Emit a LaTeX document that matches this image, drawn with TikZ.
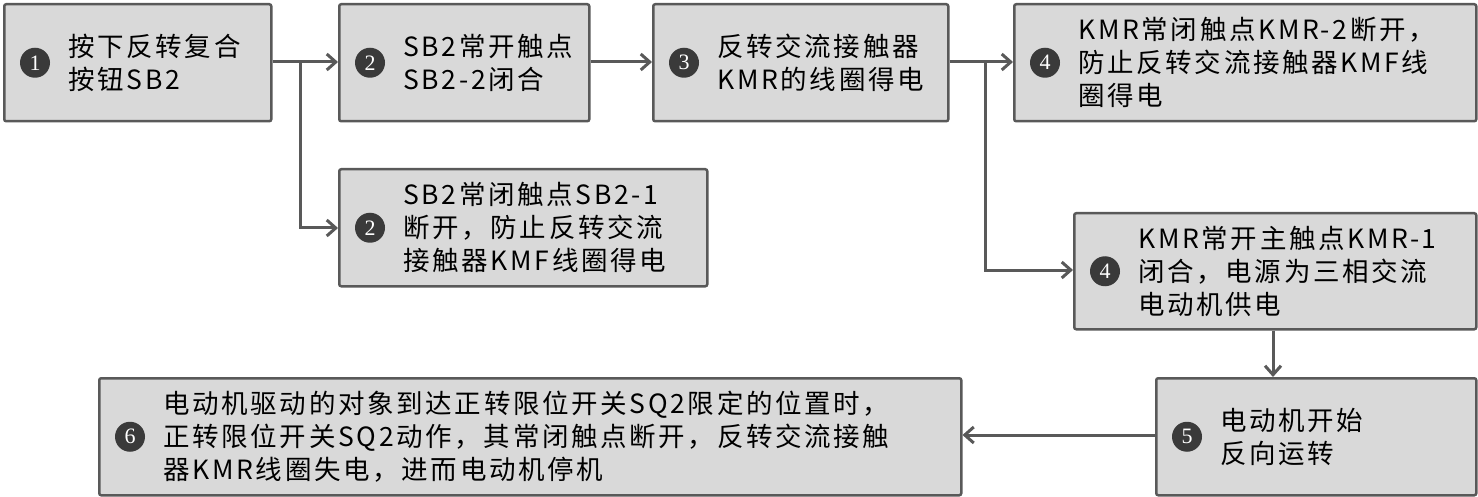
\documentclass[tikz,border=0pt]{standalone}
\usepackage{fontspec}
\setmainfont{Liberation Serif}
\newfontfamily\cjk[LetterSpace=10]{Noto Sans CJK SC}
\usetikzlibrary{arrows.meta}
\definecolor{boxfill}{HTML}{D9D9D9}
\definecolor{boxline}{HTML}{595959}
\definecolor{numfill}{HTML}{3A3A3A}
\tikzset{
  stepbox/.style={rectangle,rounded corners=2pt,line width=2.5pt,draw=boxline,fill=boxfill,
    anchor=north west,inner sep=0pt},
  steptext/.style={font=\cjk\fontsize{26.5}{33}\selectfont,align=left,anchor=west,inner sep=0pt},
  numdot/.style={circle,fill=numfill,text=white,inner sep=0pt,minimum size=30pt,
    font=\fontsize{22}{22}\selectfont},
  flow/.style={line width=3pt,draw=boxline,-{Straight Barb[length=9pt,width=16pt,line width=3pt]}}
}
\newcommand{\stepnode}[6]{%
  \node[stepbox,minimum width=#4pt,minimum height=#5pt] (#1) at (#2,#3) {};
  \node[numdot] (#1n) at ([xshift=32pt]#1.west) {#6};}
\begin{document}
\begin{tikzpicture}[x=1pt,y=-1pt]
\useasboundingbox (0,0) rectangle (1478,497);
\stepnode{s1}{3}{3}{267}{117}{1}
\node[steptext] at ([xshift=18pt]s1n.east) {按下反转复合\\按钮SB2};
\stepnode{s2}{338}{3}{250}{117}{2}
\node[steptext] at ([xshift=18pt]s2n.east) {SB2常开触点\\SB2-2闭合};
\stepnode{s3}{652}{3}{295}{117}{3}
\node[steptext] at ([xshift=18pt]s3n.east) {反转交流接触器\\KMR的线圈得电};
\stepnode{s4}{1013}{3}{462}{117}{4}
\node[steptext] at ([xshift=18pt]s4n.east) {KMR常闭触点KMR-2断开，\\防止反转交流接触器KMF线\\圈得电};
\stepnode{s2b}{338}{168}{368}{117}{2}
\node[steptext] at ([xshift=18pt]s2bn.east) {SB2常闭触点SB2-1\\断开，防止反转交流\\接触器KMF线圈得电};
\stepnode{s4b}{1073}{212}{402}{116}{4}
\node[steptext] at ([xshift=18pt]s4bn.east) {KMR常开主触点KMR-1\\闭合，电源为三相交流\\电动机供电};
\stepnode{s5}{1155}{377}{320}{117}{5}
\node[steptext] at ([xshift=18pt]s5n.east) {电动机开始\\反向运转};
\stepnode{s6}{98}{377}{862}{117}{6}
\node[steptext] at ([xshift=18pt]s6n.east) {电动机驱动的对象到达正转限位开关SQ2限定的位置时，\\正转限位开关SQ2动作，其常闭触点断开，反转交流接触\\器KMR线圈失电，进而电动机停机};
% connectors
\draw[flow] (s1.east |- 0,62) -- (s2.west |- 0,62);
\draw[flow] (300,62) |- (s2b.west |- 0,228);
\draw[flow] (s2.east |- 0,62) -- (s3.west |- 0,62);
\draw[flow] (s3.east |- 0,62) -- (s4.west |- 0,62);
\draw[flow] (985,62) |- (s4b.west |- 0,270);
\draw[flow] (s4b.south -| 1273,0) -- (s5.north -| 1273,0);
\draw[flow] (s5.west |- 0,435) -- (s6.east |- 0,435);
\end{tikzpicture}
\end{document}
